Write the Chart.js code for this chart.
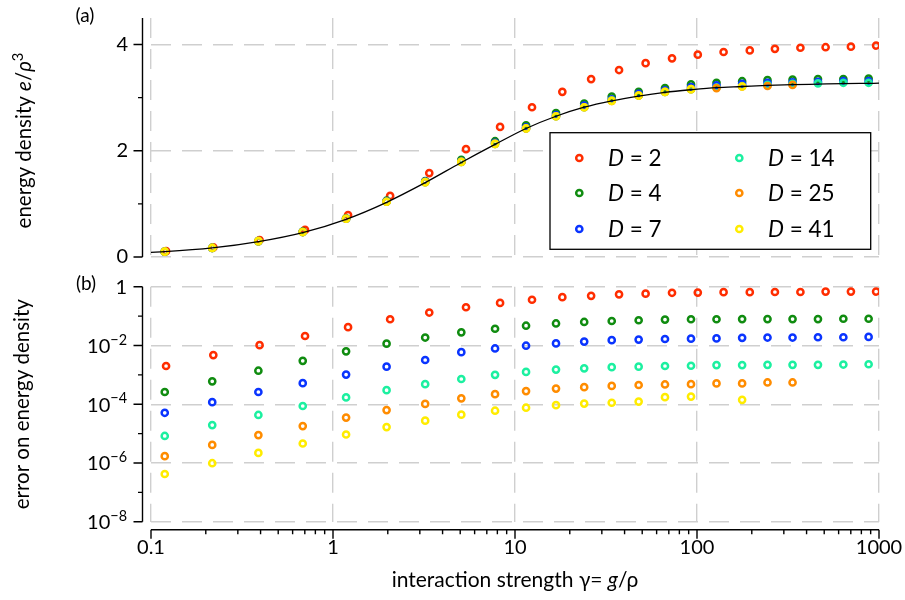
<!DOCTYPE html>
<html>
<head>
<meta charset="utf-8">
<script src="https://cdn.jsdelivr.net/npm/chart.js@4"></script>
<style>
  body { margin: 0; background: #fff; }
  #wrap { position: relative; width: 905px; height: 600px; }
  #wrap canvas { position: absolute; left: 0; }
  #top { top: 0; }
  #bottom { top: 270px; }
</style>
</head>
<body>
<div id="wrap">
  <canvas id="top" width="905" height="270"></canvas>
  <canvas id="bottom" width="905" height="330"></canvas>
</div>
<script>
// --- datos ---
const seriesLabels = ['2', '4', '7', '14', '25', '41'];
const seriesColors = ['#ff2d00', '#108c10', '#0a34ff', '#1cf0a0', '#ff8c00', '#ffec00'];

// gamma de los puntos (D = 2 va ligeramente desplazado)
const gammaD2 = [0.121, 0.220, 0.395, 0.702, 1.21, 2.06, 3.38, 5.38, 8.28, 12.4, 18.2, 26.2, 37.3, 52.2, 72.9, 101, 140, 195, 268, 370, 509, 701, 964];
const gamma = [0.119, 0.217, 0.389, 0.682, 1.18, 1.97, 3.21, 5.07, 7.77, 11.5, 16.8, 24.0, 34.0, 47.8, 66.7, 92.7, 128, 177, 244, 335, 462, 637, 877];

// (a) densidad de energía
const energyD2 = [0.11, 0.18, 0.32, 0.51, 0.79, 1.15, 1.58, 2.03, 2.45, 2.82, 3.11, 3.35, 3.52, 3.65, 3.74, 3.81, 3.86, 3.89, 3.92, 3.94, 3.95, 3.96, 3.98];
const energyD4 = [0.10, 0.17, 0.30, 0.48, 0.73, 1.06, 1.43, 1.83, 2.18, 2.48, 2.71, 2.89, 3.02, 3.11, 3.18, 3.25, 3.28, 3.31, 3.33, 3.34, 3.35, 3.35, 3.36];
const energyD7 = [0.10, 0.17, 0.30, 0.47, 0.72, 1.05, 1.42, 1.80, 2.15, 2.44, 2.67, 2.85, 2.97, 3.07, 3.14, 3.20, 3.23, 3.26, 3.28, 3.29, 3.30, 3.31, 3.31];
const energyD14 = [0.10, 0.17, 0.30, 0.47, 0.72, 1.04, 1.41, 1.79, 2.13, 2.42, 2.65, 2.82, 2.95, 3.04, 3.11, 3.16, 3.19, 3.22, 3.24, 3.26, 3.27, 3.28, 3.28];
const energyD25 = [0.10, 0.17, 0.30, 0.47, 0.72, 1.04, 1.41, 1.79, 2.13, 2.42, 2.65, 2.82, 2.94, 3.04, 3.11, 3.16, 3.18, 3.21, 3.22, 3.24, null, null, null];
const energyD41 = [0.10, 0.17, 0.30, 0.47, 0.72, 1.04, 1.41, 1.79, 2.13, 2.42, 2.65, 2.82, 2.94, 3.04, 3.11, 3.16, null, 3.21, null, null, null, null, null];

// curva exacta (línea negra)
const exactGamma = [0.1, 0.119, 0.217, 0.389, 0.682, 1.18, 1.97, 3.21, 5.07, 7.77, 11.5, 16.8, 24.0, 34.0, 47.8, 66.7, 92.7, 128, 177, 244, 335, 462, 637, 877, 1000];
const exactEnergy = [0.088, 0.10, 0.17, 0.29, 0.46, 0.71, 1.03, 1.40, 1.78, 2.12, 2.42, 2.65, 2.82, 2.94, 3.03, 3.10, 3.15, 3.19, 3.21, 3.23, 3.245, 3.255, 3.265, 3.27, 3.272];

// (b) error
const errorD2 = [2.0e-3, 4.7e-3, 1.02e-2, 2.1e-2, 4.2e-2, 7.8e-2, 0.132, 0.20, 0.28, 0.36, 0.44, 0.49, 0.55, 0.58, 0.62, 0.63, 0.65, 0.65, 0.66, 0.66, 0.68, 0.68, 0.68];
const errorD4 = [2.6e-4, 6.0e-4, 1.38e-3, 3.0e-3, 6.3e-3, 1.15e-2, 1.86e-2, 2.8e-2, 3.7e-2, 4.7e-2, 5.6e-2, 6.3e-2, 6.8e-2, 7.2e-2, 7.6e-2, 7.8e-2, 7.8e-2, 7.9e-2, 7.9e-2, 7.9e-2, 7.9e-2, 8.1e-2, 8.1e-2];
const errorD7 = [5.1e-5, 1.17e-4, 2.6e-4, 5.2e-4, 1.02e-3, 1.9e-3, 3.2e-3, 5.9e-3, 7.9e-3, 9.8e-3, 1.17e-2, 1.35e-2, 1.51e-2, 1.58e-2, 1.66e-2, 1.70e-2, 1.74e-2, 1.82e-2, 1.86e-2, 1.86e-2, 1.90e-2, 1.90e-2, 1.95e-2];
const errorD14 = [8.3e-6, 1.95e-5, 4.3e-5, 8.7e-5, 1.7e-4, 3.0e-4, 4.8e-4, 7.2e-4, 1.0e-3, 1.26e-3, 1.51e-3, 1.66e-3, 1.82e-3, 1.9e-3, 2.0e-3, 2.04e-3, 2.14e-3, 2.14e-3, 2.19e-3, 2.19e-3, 2.19e-3, 2.24e-3, 2.29e-3];
const errorD25 = [1.7e-6, 4.1e-6, 8.9e-6, 1.8e-5, 3.5e-5, 6.3e-5, 1.02e-4, 1.58e-4, 2.2e-4, 2.8e-4, 3.4e-4, 3.8e-4, 4.2e-4, 4.5e-4, 4.7e-4, 4.8e-4, 5.1e-4, 5.1e-4, 5.5e-4, 5.5e-4, null, null, null];
const errorD41 = [4.2e-7, 9.8e-7, 2.2e-6, 4.6e-6, 9.3e-6, 1.66e-5, 2.75e-5, 4.4e-5, 6.0e-5, 7.6e-5, 9.3e-5, 1.05e-4, 1.12e-4, 1.23e-4, 1.74e-4, 1.82e-4, null, 1.41e-4, null, null, null, null, null];

// ticks
const xDecades = [0.1, 1, 10, 100, 1000];
const xDecadeLabels = ['0.1', '1', '10', '100', '1000'];
const energyTicks = [0, 2, 4];
const energyMinorTicks = [1, 3];
const errorTicks = [1e-8, 1e-6, 1e-4, 1e-2, 1];
const errorTickExp = [-8, -6, -4, -2, 0];
const errorMinorTicks = [1e-7, 1e-5, 1e-3, 1e-1];

const energySeries = [energyD2, energyD4, energyD7, energyD14, energyD25, energyD41];
const errorSeries = [errorD2, errorD4, errorD7, errorD14, errorD25, errorD41];

const FONT = 'Lato, "Open Sans", sans-serif';
const GRID = '#cfcfcf';
const DASH = [20, 11];
const MARK_R = 3.1;
const MARK_W = 2.5;

function toPoints(xs, ys) {
    const out = [];
    ys.forEach((y, i) => { if (y !== null) out.push({ x: xs[i], y: y }); });
    return out;
}

function markerDatasets(list) {
    return list.map((ys, i) => ({
        label: 'D = ' + seriesLabels[i],
        data: toPoints(i === 0 ? gammaD2 : gamma, ys),
        showLine: false,
        pointRadius: MARK_R,
        pointBorderWidth: MARK_W,
        pointBackgroundColor: 'rgba(0,0,0,0)',
        pointBorderColor: seriesColors[i],
        order: 10 - i // D = 2 se dibuja primero, D = 41 encima
    }));
}

// texto con cursivas y superíndices
function richText(ctx, parts, x, y, align, size) {
    let w = 0;
    const items = parts.map(([t, st]) => {
        const fs = st === 's' ? size * 0.72 : size;
        const font = (st === 'i' ? 'italic ' : '') + fs + 'px ' + FONT;
        ctx.font = font;
        const wi = ctx.measureText(t).width;
        w += wi;
        return { t, font, wi, dy: st === 's' ? -size * 0.42 : 0 };
    });
    let cx = align === 'right' ? x - w : align === 'center' ? x - w / 2 : x;
    ctx.textAlign = 'left';
    ctx.textBaseline = 'alphabetic';
    items.forEach(it => {
        ctx.font = it.font;
        ctx.fillText(it.t, cx, y + it.dy);
        cx += it.wi;
    });
}

function rotatedTitle(ctx, parts, cx, cy, size) {
    ctx.save();
    ctx.translate(cx, cy);
    ctx.rotate(-Math.PI / 2);
    richText(ctx, parts, 0, size * 0.35, 'center', size);
    ctx.restore();
}

function yAxisFrame(ctx, chart, majors, minors) {
    const a = chart.chartArea;
    const sy = chart.scales.y;
    const ax = a.left - 8.5;
    ctx.strokeStyle = '#000';
    ctx.lineWidth = 1.4;
    ctx.beginPath();
    ctx.moveTo(ax, a.top);
    ctx.lineTo(ax, a.bottom);
    majors.forEach(v => { const p = sy.getPixelForValue(v); ctx.moveTo(ax - 9, p); ctx.lineTo(ax, p); });
    minors.forEach(v => { const p = sy.getPixelForValue(v); ctx.moveTo(ax - 4.5, p); ctx.lineTo(ax, p); });
    ctx.stroke();
}

function xScale(extra) {
    return Object.assign({
        type: 'logarithmic',
        min: 0.1,
        max: 1000,
        afterBuildTicks: s => { s.ticks = xDecades.map(v => ({ value: v })); },
        grid: { color: GRID, lineWidth: 1.4, drawTicks: false },
        border: { display: false, dash: DASH }
    }, extra);
}

// ---------- (a) ----------
const topPlugin = {
    id: 'topFrame',
    afterDraw(chart) {
        const ctx = chart.ctx;
        const a = chart.chartArea;
        ctx.save();
        yAxisFrame(ctx, chart, energyTicks, energyMinorTicks);
        ctx.fillStyle = '#000';
        richText(ctx, [['(a)', '']], 85, 22, 'center', 19);
        rotatedTitle(ctx, [['energy density ', ''], ['e', 'i'], ['/', ''], ['ρ', 'i'], ['3', 's']], 24, (a.top + a.bottom) / 2 + 3, 20.5);

        // leyenda
        const bx = 550, by = 132.7, bw = 320.7, bh = 116.6;
        ctx.fillStyle = '#fff';
        ctx.fillRect(bx, by, bw, bh);
        ctx.strokeStyle = '#000';
        ctx.lineWidth = 1.3;
        ctx.strokeRect(bx, by, bw, bh);
        const rows = [158, 193, 229];
        const colMark = [579.3, 739.3];
        const colText = [608, 768];
        seriesLabels.forEach((lab, i) => {
            const col = Math.floor(i / 3), row = i % 3;
            ctx.beginPath();
            ctx.strokeStyle = seriesColors[i];
            ctx.lineWidth = MARK_W;
            ctx.arc(colMark[col], rows[row], MARK_R, 0, Math.PI * 2);
            ctx.stroke();
            ctx.fillStyle = '#000';
            richText(ctx, [['D', 'i'], [' = ' + lab, '']], colText[col], rows[row] + 8, 'left', 22.5);
        });
        ctx.restore();
    }
};

const exactDataset = {
    label: 'exacto',
    data: toPoints(exactGamma, exactEnergy),
    showLine: true,
    borderColor: '#000',
    borderWidth: 1.3,
    pointRadius: 0,
    cubicInterpolationMode: 'monotone',
    fill: false,
    order: 0
};

new Chart(document.getElementById('top'), {
    type: 'scatter',
    data: { datasets: markerDatasets(energySeries).concat([exactDataset]) },
    options: {
        responsive: false,
        animation: false,
        devicePixelRatio: 1,
        layout: { padding: { left: 0, right: 26, top: 18, bottom: 13 } },
        plugins: { legend: { display: false }, tooltip: { enabled: false } },
        scales: {
            x: xScale({
                ticks: { display: false },
                afterFit: s => { s.height = 0; s.paddingLeft = 0; s.paddingRight = 0; }
            }),
            y: {
                type: 'linear',
                min: 0,
                max: 4.5,
                afterBuildTicks: s => { s.ticks = energyTicks.map(v => ({ value: v })); },
                afterFit: s => { s.width = 151; s.paddingTop = 0; s.paddingBottom = 0; },
                ticks: { color: '#000', padding: 23, font: { family: FONT, size: 20 } },
                grid: { color: GRID, lineWidth: 1.4, drawTicks: false },
                border: { display: false, dash: DASH }
            }
        }
    },
    plugins: [topPlugin]
});

// ---------- (b) ----------
const bottomPlugin = {
    id: 'bottomFrame',
    afterDraw(chart) {
        const ctx = chart.ctx;
        const a = chart.chartArea;
        const sx = chart.scales.x;
        const sy = chart.scales.y;
        ctx.save();
        yAxisFrame(ctx, chart, errorTicks, errorMinorTicks);

        // eje x desplazado
        const ay = a.bottom + 8;
        ctx.beginPath();
        ctx.moveTo(a.left, ay);
        ctx.lineTo(a.right, ay);
        xDecades.forEach((d, i) => {
            const p = sx.getPixelForValue(d);
            ctx.moveTo(p, ay);
            ctx.lineTo(p, ay + 9);
            if (i < xDecades.length - 1) {
                for (let m = 2; m <= 9; m++) {
                    const q = sx.getPixelForValue(d * m);
                    ctx.moveTo(q, ay);
                    ctx.lineTo(q, ay + 4.5);
                }
            }
        });
        ctx.stroke();

        // etiquetas del eje y (10^n)
        ctx.fillStyle = '#000';
        errorTicks.forEach((v, i) => {
            const p = sy.getPixelForValue(v);
            const e = errorTickExp[i];
            const parts = e === 0 ? [['1', '']] : [['10', ''], ['\u2212' + (-e), 's']];
            richText(ctx, parts, 127, p + 7.5, 'right', 20);
        });

        richText(ctx, [['(b)', '']], 86, 20, 'center', 19);
        rotatedTitle(ctx, [['error on energy density', '']], 22, (a.top + a.bottom) / 2, 20.5);
        richText(ctx, [['interaction strength \u03b3= ', ''], ['g', 'i'], ['/\u03c1', '']], (a.left + a.right) / 2, 317, 'center', 21);
        ctx.restore();
    }
};

new Chart(document.getElementById('bottom'), {
    type: 'scatter',
    data: { datasets: markerDatasets(errorSeries) },
    options: {
        responsive: false,
        animation: false,
        devicePixelRatio: 1,
        layout: { padding: { left: 0, right: 26, top: 16.7, bottom: 0 } },
        plugins: { legend: { display: false }, tooltip: { enabled: false } },
        scales: {
            x: xScale({
                afterFit: s => { s.height = 78.3; s.paddingLeft = 0; s.paddingRight = 0; },
                ticks: {
                    color: '#000',
                    padding: 14,
                    autoSkip: false,
                    maxRotation: 0,
                    font: { family: FONT, size: 20 },
                    callback: v => {
                        const i = xDecades.findIndex(d => Math.abs(d - v) < d * 1e-6);
                        return i >= 0 ? xDecadeLabels[i] : '';
                    }
                }
            }),
            y: {
                type: 'logarithmic',
                min: 1e-8,
                max: 1,
                afterBuildTicks: s => { s.ticks = errorTicks.map(v => ({ value: v })); },
                afterFit: s => { s.width = 151; },
                ticks: { display: false },
                grid: { color: GRID, lineWidth: 1.4, drawTicks: false },
                border: { display: false, dash: DASH }
            }
        }
    },
    plugins: [bottomPlugin]
});
</script>
</body>
</html>
